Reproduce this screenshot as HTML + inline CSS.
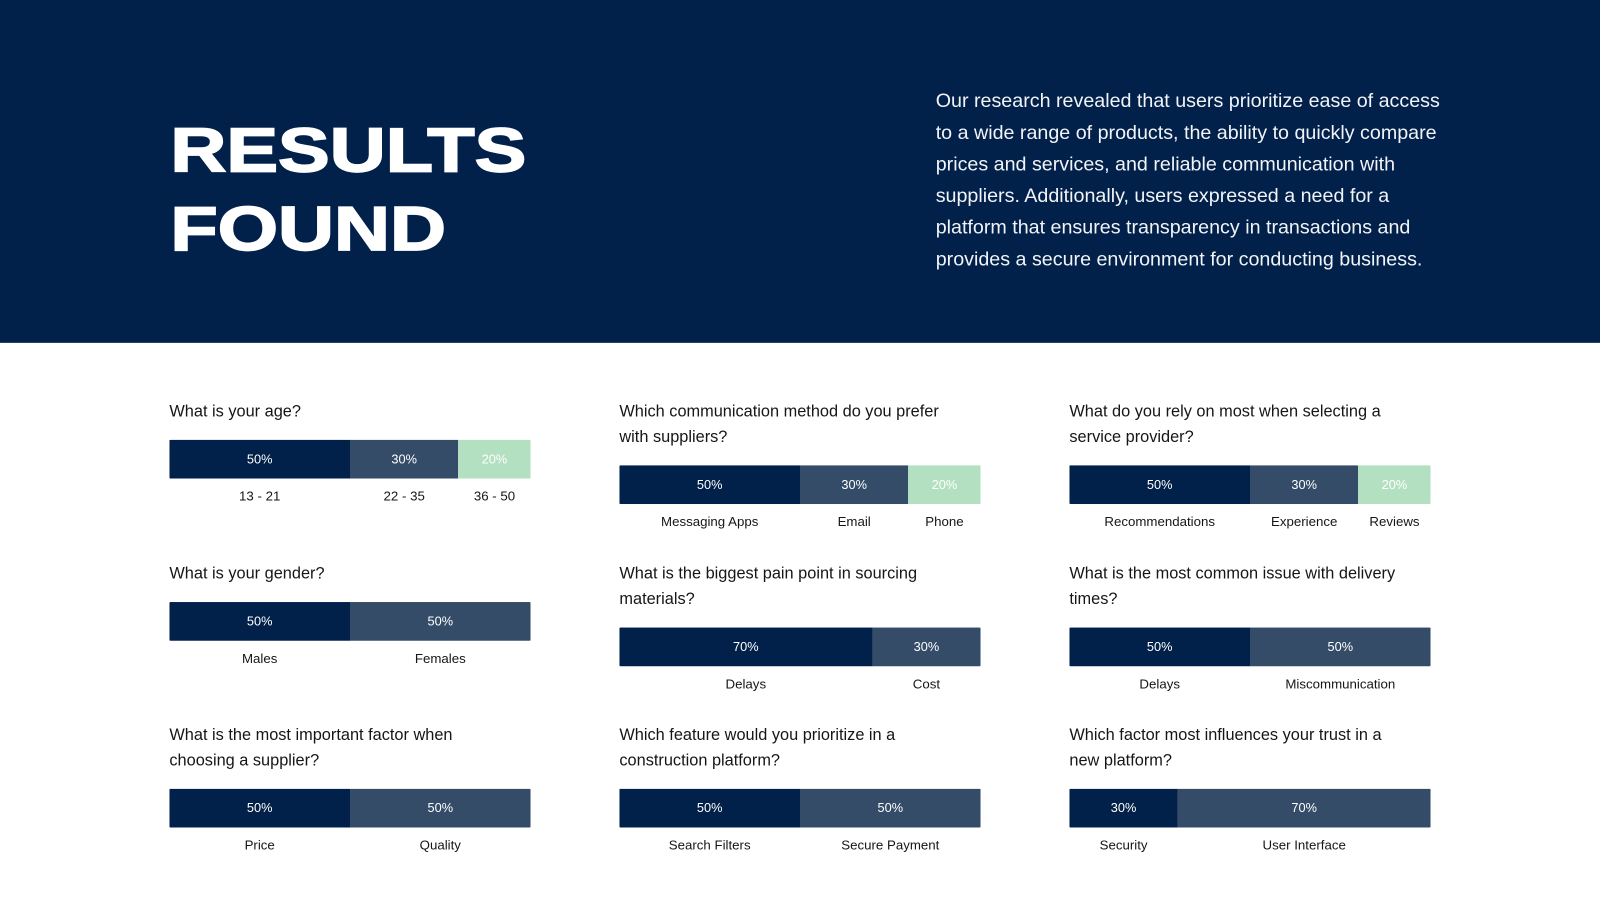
<!DOCTYPE html>
<html><head><meta charset="utf-8">
<style>
html,body{margin:0;padding:0;background:#fff;overflow:hidden}
#root{position:relative;width:1568px;height:882px;transform:scale(1.020408);transform-origin:0 0;font-family:"Liberation Sans",sans-serif}
#header{position:absolute;left:0;top:0;width:1568px;height:336px;background:#01204a}
#title{position:absolute;left:167px;top:109px;color:#fff;font-weight:900;font-size:61px;line-height:77px;transform:scaleX(1.245);transform-origin:0 0;letter-spacing:0px;-webkit-text-stroke:1.6px #fff}
#desc{position:absolute;left:917px;top:84px;width:506px;color:#f2f4f7;font-size:19.3px;line-height:31px}
.q{position:absolute;font-size:16px;line-height:25px;color:#161616;white-space:pre-line}
.bar{position:absolute;height:38px;display:flex;border-radius:1px;overflow:hidden}
.seg{height:100%;display:flex;align-items:center;justify-content:center;color:#fff;font-size:12.5px}
.lab{position:absolute;font-size:13px;color:#161616;text-align:center;transform:translate(-50%,-50%);white-space:nowrap}
</style></head>
<body>
<div id="root">
<div id="header">
<div id="title">RESULTS<br>FOUND</div>
<div id="desc">Our research revealed that users prioritize ease of access to a wide range of products, the ability to quickly compare prices and services, and reliable communication with suppliers. Additionally, users expressed a need for a platform that ensures transparency in transactions and provides a secure environment for conducting business.</div>
</div>
<div id="charts"></div>
</div>
<script>
const questions = [
 "What is your age?",
 "Which communication method do you prefer\nwith suppliers?",
 "What do you rely on most when selecting a\nservice provider?",
 "What is your gender?",
 "What is the biggest pain point in sourcing\nmaterials?",
 "What is the most common issue with delivery\ntimes?",
 "What is the most important factor when\nchoosing a supplier?",
 "Which feature would you prioritize in a\nconstruction platform?",
 "Which factor most influences your trust in a\nnew platform?"
];
const categories = [
 ["13 - 21","22 - 35","36 - 50"],
 ["Messaging Apps","Email","Phone"],
 ["Recommendations","Experience","Reviews"],
 ["Males","Females"],
 ["Delays","Cost"],
 ["Delays","Miscommunication"],
 ["Price","Quality"],
 ["Search Filters","Secure Payment"],
 ["Security","User Interface"]
];
const values = [
 [50,30,20],[50,30,20],[50,30,20],
 [50,50],[70,30],[50,50],
 [50,50],[50,50],[30,70]
];
const colX=[166,607,1048], rowY=[391,550,708], barW=354, barH=38;
const colors=["#01214a","#344c68","#b3e0c0"];
const wrap=document.getElementById('charts');
questions.forEach((q,i)=>{
  const x=colX[i%3], y=rowY[Math.floor(i/3)];
  const lines=q.split("\n").length;
  const qd=document.createElement('div');
  qd.className='q';qd.style.left=x+'px';qd.style.top=y+'px';qd.textContent=q;
  
  
  wrap.appendChild(qd);
  const by=y+lines*25+15;
  const bar=document.createElement('div');
  bar.className='bar';bar.style.left=x+'px';bar.style.top=by+'px';bar.style.width=barW+'px';
  
  
  wrap.appendChild(bar);
  const total=values[i].reduce((a,b)=>a+b,0);
  let acc=0;
  values[i].forEach((v,j)=>{
    const w=v/total*barW;
    const s=document.createElement('div');
    s.className='seg';s.style.width=w+'px';s.style.background=colors[j];
    s.textContent=v+'%';
    
    
    bar.appendChild(s);
    const l=document.createElement('div');
    l.className='lab';l.style.left=(x+acc+w/2)+'px';l.style.top=(by+barH+17)+'px';
    l.textContent=categories[i][j];
    
    
    wrap.appendChild(l);
    acc+=w;
  });
});
</script>
</body></html>
